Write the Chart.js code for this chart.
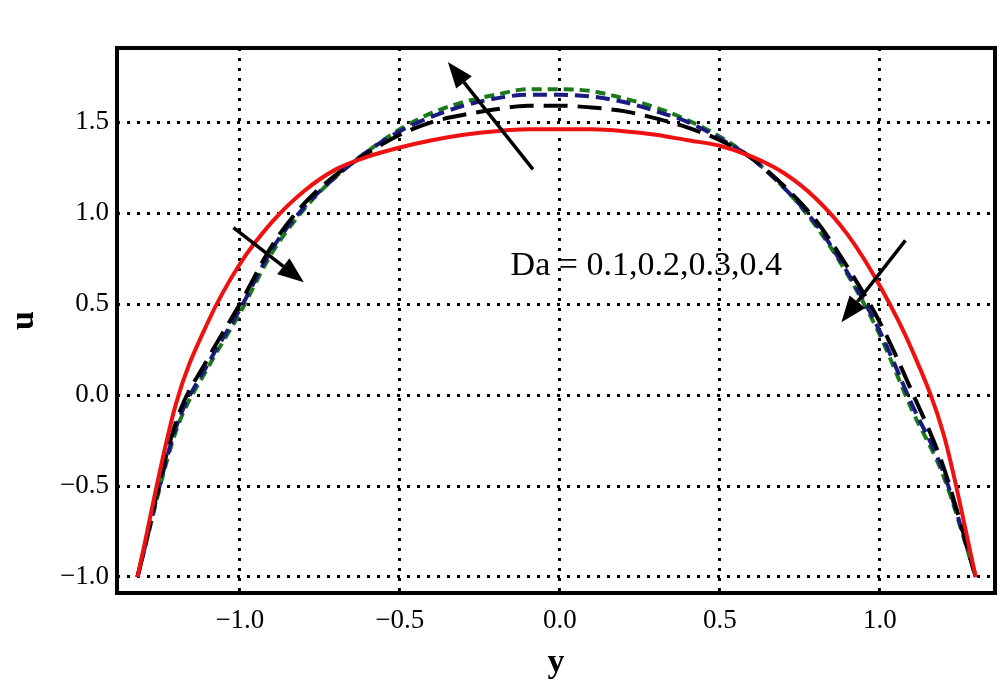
<!DOCTYPE html>
<html>
<head>
<meta charset="utf-8">
<script src="https://cdn.jsdelivr.net/npm/chart.js@4/dist/chart.umd.min.js"></script>
<style>
    html, body { margin: 0; padding: 0; background: #fff; }
    #wrap { width: 1000px; height: 688px; }
</style>
</head>
<body>
<div id="wrap"><canvas id="chart"></canvas></div>
<script>
// y positions (horizontal axis)
const yValues = [-1.32, -1.2, -1.1, -1.0, -0.9, -0.8, -0.7, -0.6, -0.5, -0.4, -0.3, -0.2, -0.1, 0,
    0.1, 0.2, 0.3, 0.4, 0.5, 0.6, 0.7, 0.8, 0.9, 1.0, 1.1, 1.2, 1.3];

// u profiles, Da = 0.1 .. 0.4
const uDa01 = [-1, -0.05, 0.4, 0.72, 0.95, 1.12, 1.24, 1.31, 1.36, 1.40, 1.43, 1.45, 1.46, 1.46,
    1.46, 1.45, 1.43, 1.40, 1.37, 1.31, 1.22, 1.08, 0.88, 0.60, 0.25, -0.22, -1];
const uDa02 = [-1, -0.15, 0.2, 0.5, 0.82, 1.05, 1.21, 1.33, 1.43, 1.50, 1.54, 1.57, 1.59, 1.59,
    1.58, 1.56, 1.52, 1.47, 1.40, 1.30, 1.15, 0.96, 0.70, 0.40, 0.02, -0.4, -1];
const uDa03 = [-1, -0.18, 0.17, 0.47, 0.8, 1.03, 1.2, 1.34, 1.45, 1.53, 1.59, 1.63, 1.65, 1.65,
    1.64, 1.61, 1.56, 1.50, 1.41, 1.30, 1.14, 0.94, 0.67, 0.35, -0.05, -0.43, -1];
const uDa04 = [-1, -0.2, 0.15, 0.45, 0.78, 1.02, 1.2, 1.34, 1.46, 1.55, 1.61, 1.65, 1.68, 1.68,
    1.67, 1.63, 1.58, 1.51, 1.42, 1.30, 1.14, 0.93, 0.66, 0.33, -0.08, -0.45, -1];

const xTicks = [-1.0, -0.5, 0.0, 0.5, 1.0];
const uTicks = [-1.0, -0.5, 0.0, 0.5, 1.0, 1.5];

const label = "Da = 0.1,0.2,0.3,0.4";
// arrows: [fromY, fromU, toY, toU]
const arrows = [
    [-0.084, 1.24, -0.35, 1.83],
    [-1.02, 0.92, -0.80, 0.62],
    [1.08, 0.85, 0.88, 0.40]
];

const serif = "'Liberation Serif', 'DejaVu Serif', serif";

function pts(u) {
    return yValues.map((y, i) => ({ x: y, y: u[i] }));
}

function fmt(v) {
    return v.toFixed(1).replace('-', '\u2212');
}

const annotations = {
    id: 'annotations',
    afterDatasetsDraw(chart) {
        const { ctx, chartArea, scales } = chart;
        const sx = scales.x, sy = scales.y;
        ctx.save();
        ctx.strokeStyle = '#000';
        ctx.fillStyle = '#000';
        ctx.lineWidth = 3.5;
        arrows.forEach(a => {
            let x0 = sx.getPixelForValue(a[0]), y0 = sy.getPixelForValue(a[1]);
            let x1 = sx.getPixelForValue(a[2]), y1 = sy.getPixelForValue(a[3]);
            let ang = Math.atan2(y1 - y0, x1 - x0);
            let hl = 26, hw = 10;
            let bx = x1 - hl * Math.cos(ang), by = y1 - hl * Math.sin(ang);
            ctx.beginPath();
            ctx.moveTo(x0, y0);
            ctx.lineTo(bx, by);
            ctx.stroke();
            ctx.beginPath();
            ctx.moveTo(x1, y1);
            ctx.lineTo(bx - hw * Math.sin(ang), by + hw * Math.cos(ang));
            ctx.lineTo(bx + hw * Math.sin(ang), by - hw * Math.cos(ang));
            ctx.closePath();
            ctx.fill();
        });
        ctx.font = "34px " + serif;
        ctx.textAlign = 'center';
        ctx.textBaseline = 'middle';
        ctx.fillText(label, sx.getPixelForValue(0.27), sy.getPixelForValue(0.71));
        // frame
        ctx.lineWidth = 4;
        ctx.strokeRect(chartArea.left, chartArea.top, chartArea.right - chartArea.left, chartArea.bottom - chartArea.top);
        ctx.restore();
    }
};

function line(data, color, dash, width) {
    return {
        data: pts(data),
        borderColor: color,
        borderWidth: width,
        borderDash: dash,
        pointRadius: 0,
        fill: false,
        cubicInterpolationMode: 'monotone'
    };
}

const grid = {
    color: '#000',
    lineWidth: 3,
    drawTicks: false
};

const config = {
    type: 'line',
    data: {
        datasets: [
            line(uDa01, '#ee1111', [], 4),
            line(uDa02, '#000000', [24, 10], 4),
            line(uDa03, '#1a1a80', [14, 7], 4),
            line(uDa04, '#1a7a1a', [10, 6], 4)
        ]
    },
    options: {
        responsive: true,
        maintainAspectRatio: false,
        animation: false,
        layout: { padding: { top: 48, right: 5, left: 0, bottom: 0 } },
        plugins: { legend: { display: false }, tooltip: { enabled: false } },
        scales: {
            x: {
                type: 'linear',
                min: -1.384,
                max: 1.36,
                afterBuildTicks: s => { s.ticks = xTicks.map(v => ({ value: v })); },
                afterFit: s => { s.height = 95; },
                border: { display: false, dash: [3, 7] },
                grid: grid,
                ticks: { color: '#000', font: { family: serif, size: 27 }, padding: 12, callback: v => fmt(v), maxRotation: 0 },
                title: { display: true, text: 'y', color: '#000', font: { family: serif, size: 34, weight: 'bold' }, padding: { top: 4 } }
            },
            y: {
                type: 'linear',
                min: -1.088,
                max: 1.907,
                afterBuildTicks: s => { s.ticks = uTicks.map(v => ({ value: v })); },
                afterFit: s => { s.width = 117; },
                border: { display: false, dash: [3, 7] },
                grid: grid,
                ticks: { color: '#000', font: { family: serif, size: 27 }, padding: 8, callback: v => fmt(v) },
                title: { display: true, text: 'u', color: '#000', font: { family: serif, size: 34, weight: 'bold' }, padding: { bottom: 0 } }
            }
        }
    },
    plugins: [annotations]
};

new Chart(document.getElementById('chart'), config);
</script>
</body>
</html>
